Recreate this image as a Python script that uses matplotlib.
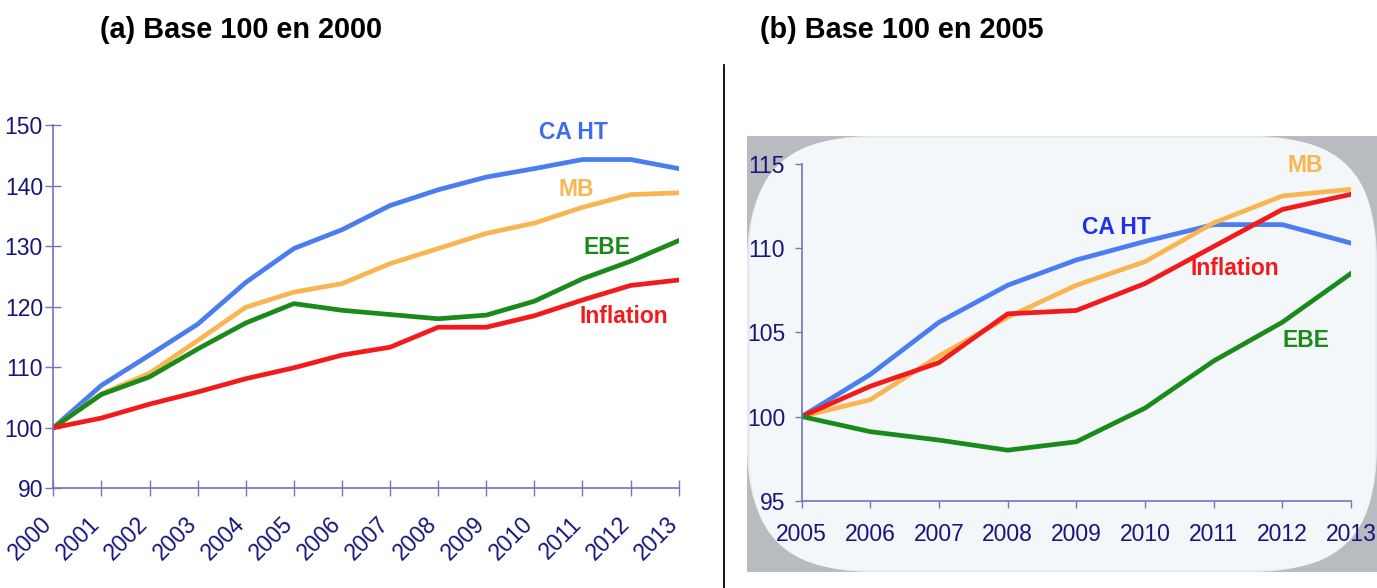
import matplotlib
matplotlib.use("Agg")
import matplotlib.pyplot as plt
from matplotlib import font_manager as fm
from matplotlib.patches import Rectangle, FancyBboxPatch
from matplotlib.lines import Line2D
from matplotlib.transforms import ScaledTranslation

# left panel: base 100 in 2000
years_a = list(range(2000, 2014))
ca_a = [100, 107.0, 112.0, 117.1, 124.0, 129.6, 132.7, 136.7, 139.3, 141.4, 142.8, 144.3, 144.3, 142.8]
mb_a = [100, 105.6, 109.0, 114.4, 119.9, 122.4, 123.8, 127.1, 129.6, 132.1, 133.8, 136.4, 138.5, 138.8]
ebe_a = [100, 105.5, 108.4, 113.0, 117.3, 120.5, 119.4, 118.7, 118.0, 118.6, 120.9, 124.6, 127.5, 130.9]
inf_a = [100, 101.6, 103.9, 105.9, 108.1, 109.9, 112.0, 113.3, 116.6, 116.6, 118.5, 121.1, 123.5, 124.4]

# right panel: base 100 in 2005
years_b = list(range(2005, 2014))
ca_b = [100, 102.5, 105.6, 107.8, 109.3, 110.4, 111.4, 111.4, 110.3]
mb_b = [100, 101.0, 103.6, 105.9, 107.8, 109.2, 111.5, 113.1, 113.5]
inf_b = [100, 101.8, 103.2, 106.1, 106.3, 107.9, 110.1, 112.3, 113.2]
ebe_b = [100, 99.1, 98.6, 98.0, 98.5, 100.5, 103.3, 105.6, 108.5]

BLUE = "#4a7cf2"
ORANGE = "#f9b552"
GREEN = "#1a8a1a"
RED = "#f21a1a"
NAVY = "#15157a"
SPINE = "#7474b8"

# narrow font if there is one, else plain Liberation Sans
installed = {f.name for f in fm.fontManager.ttflist}
if "Liberation Sans Narrow" in installed:
    NARROW = ["Liberation Sans Narrow", "DejaVu Sans"]
    k = 1.12
else:
    NARROW = ["Liberation Sans", "DejaVu Sans"]
    k = 1.0
SANS = ["Liberation Sans", "DejaVu Sans"]

W, H = 1377, 588
fig = plt.figure(figsize=(W / 100, H / 100), dpi=100)

def fx(px):
    return px / W

def fy(py):
    return 1 - py / H

# titles and separator
fig.text(fx(100), fy(30), "(a) Base 100 en 2000", fontsize=20.8, fontweight="bold",
         family=SANS, va="center", ha="left")
fig.text(fx(760), fy(30), "(b) Base 100 en 2005", fontsize=20.8, fontweight="bold",
         family=SANS, va="center", ha="left")
fig.add_artist(Line2D([fx(724), fx(724)], [fy(65), fy(588)], color="black", lw=1.3))

# right panel background: pale panel with grey lens-like corners
fig.add_artist(Rectangle((fx(747), fy(572)), fx(W - 747), fy(136) - fy(572),
                         transform=fig.transFigure, facecolor="#b8bcc0", edgecolor="none", zorder=0))
fig.add_artist(FancyBboxPatch((fx(747), fy(572)), fx(W - 747), fy(136) - fy(572),
                              boxstyle="round,pad=0,rounding_size=0.09",
                              transform=fig.transFigure, facecolor="#e3ecf1",
                              edgecolor="none", zorder=0, mutation_aspect=W / H))
fig.add_artist(FancyBboxPatch((fx(750), fy(570)), fx(1375 - 750), fy(138) - fy(570),
                              boxstyle="round,pad=0,rounding_size=0.08",
                              transform=fig.transFigure, facecolor="#f4f7fa",
                              edgecolor="none", zorder=0, mutation_aspect=W / H))

# ---- left chart ----
ax1 = fig.add_axes([fx(53.3), fy(488.3), fx(678.7 - 53.3), fy(125) - fy(488.3)])
ax1.patch.set_alpha(0)
lw = 3.4
ax1.plot(years_a, ca_a, color=BLUE, lw=lw)
ax1.plot(years_a, mb_a, color=ORANGE, lw=lw)
ax1.plot(years_a, ebe_a, color=GREEN, lw=lw)
ax1.plot(years_a, inf_a, color=RED, lw=lw)
ax1.set_xlim(2000, 2013)
ax1.set_ylim(90, 150)
ax1.set_yticks(range(90, 151, 10))
ax1.set_xticks(years_a)
ax1.set_xticklabels([str(y) for y in years_a], rotation=45, ha="right", va="top",
                    rotation_mode="anchor")
for s in ["top", "right"]:
    ax1.spines[s].set_visible(False)
for s in ["left", "bottom"]:
    ax1.spines[s].set_color(SPINE)
    ax1.spines[s].set_linewidth(1.2)
ax1.tick_params(axis="both", direction="inout", length=11, width=1.0, color=SPINE,
                labelcolor=NAVY, labelsize=16.5 * k)
ax1.tick_params(axis="x", pad=12)
ax1.tick_params(axis="y", pad=2)
shift = ScaledTranslation(-13 / 100, 0, fig.dpi_scale_trans)
for t in ax1.get_xticklabels():
    t.set_family(NARROW)
    t.set_transform(t.get_transform() + shift)
for t in ax1.get_yticklabels():
    t.set_family(NARROW)

lab = dict(fontsize=16.5 * k, fontweight="bold", family=NARROW, ha="center", va="center")
ax1.text(2010.82, 148.7, "CA HT", color="#3d6cf2", **lab)
ax1.text(2010.88, 139.3, "MB", color=ORANGE, **lab)
ax1.text(2011.5, 129.85, "EBE", color=GREEN, **lab)
ax1.text(2011.86, 118.45, "Inflation", color=RED, **lab)

# ---- right chart ----
ax2 = fig.add_axes([fx(801.7), fy(500.7), fx(1351 - 801.7), fy(164) - fy(500.7)])
ax2.patch.set_alpha(0)
ax2.plot(years_b, ca_b, color=BLUE, lw=lw)
ax2.plot(years_b, mb_b, color=ORANGE, lw=lw)
ax2.plot(years_b, inf_b, color=RED, lw=lw)
ax2.plot(years_b, ebe_b, color=GREEN, lw=lw)
ax2.set_xlim(2005, 2013)
ax2.set_ylim(95, 115)
ax2.set_yticks(range(95, 116, 5))
ax2.set_xticks(years_b)
for s in ["top", "right"]:
    ax2.spines[s].set_visible(False)
for s in ["left", "bottom"]:
    ax2.spines[s].set_color(SPINE)
    ax2.spines[s].set_linewidth(1.2)
ax2.tick_params(axis="both", direction="out", length=5, width=1.0, color=SPINE,
                labelcolor=NAVY, labelsize=16.5)
ax2.tick_params(axis="x", pad=11)
ax2.tick_params(axis="y", pad=7)
for t in ax2.get_xticklabels() + ax2.get_yticklabels():
    t.set_family(SANS)

ax2.text(2009.59, 111.2, "CA HT", color="#1f2ff0", **lab)
ax2.text(2011.31, 108.8, "Inflation", color=RED, **lab)
ax2.text(2012.33, 114.9, "MB", color=ORANGE, **lab)
ax2.text(2012.35, 104.5, "EBE", color=GREEN, **lab)

fig.savefig("out.png", dpi=100)
